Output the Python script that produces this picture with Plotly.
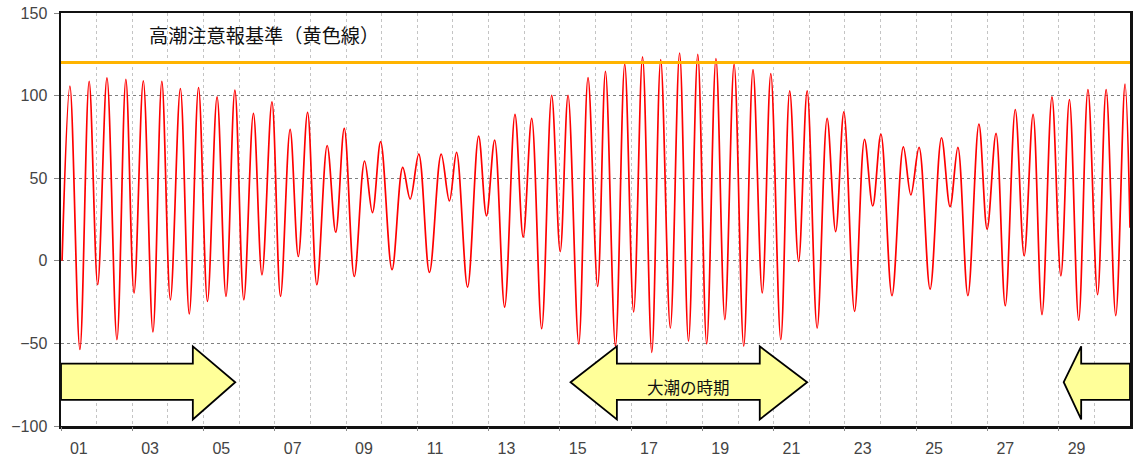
import plotly.graph_objects as go

# ---- data (day of month as decimal, tide level) ----
tide_day = [
    1.03, 1.25, 1.53, 1.79, 2.03, 2.29, 2.57, 2.82, 3.05, 3.31,
    3.58, 3.83, 4.07, 4.35, 4.60, 4.86, 5.11, 5.38, 5.63, 5.88,
    6.13, 6.40, 6.64, 6.92, 7.16, 7.43, 7.66, 7.92, 8.18, 8.47,
    8.71, 8.95, 9.23, 9.52, 9.74, 9.97, 10.29, 10.59, 10.80, 11.04,
    11.34, 11.67, 11.90, 12.10, 12.41, 12.72, 12.94, 13.17, 13.45, 13.74,
    13.97, 14.21, 14.49, 14.77, 15.01, 15.23, 15.53, 15.79, 16.06, 16.28,
    16.56, 16.82, 17.07, 17.32, 17.58, 17.83, 18.10, 18.36, 18.61, 18.87,
    19.12, 19.38, 19.63, 19.89, 20.16, 20.42, 20.68, 20.92, 21.20, 21.45,
    21.70, 21.94, 22.22, 22.50, 22.74, 22.97, 23.27, 23.55, 23.78, 24.01,
    24.32, 24.64, 24.85, 25.08, 25.39, 25.71, 25.95, 26.17, 26.45, 26.76,
    26.99, 27.24, 27.50, 27.78, 28.03, 28.28, 28.53, 28.81, 29.06, 29.30,
    29.56, 29.82, 30.09, 30.33, 30.60, 30.86, 31.00,
]
tide_level = [
    0, 105.7, -53.7, 108.7, -14.5, 110.7, -47.7, 109.9, -19.5, 108.9,
    -43.1, 108.7, -23.6, 104.3, -32.2, 104.9, -24.6, 99.2, -21.5, 103.3,
    -23.6, 89.2, -8.5, 96.2, -21.5, 79.5, 2.6, 89.8, -14.5, 69.8,
    17.3, 80.1, -9.5, 60.4, 29.2, 72.1, -5.4, 56.6, 37.4, 64.6,
    -7.0, 64.6, 36.2, 65.6, -15.9, 75.5, 27.2, 73.1, -28.0, 88.6,
    14.3, 86.2, -41.1, 100.2, 5.6, 100.2, -50.3, 110.9, -15.5, 114.7,
    -51.7, 119.0, -31.0, 123.4, -55.4, 121.8, -40.7, 125.8, -48.7, 125.0,
    -50.3, 122.4, -35.6, 119.0, -51.7, 115.7, -19.5, 113.3, -47.7, 102.9,
    -0.4, 102.9, -40.7, 86.2, 17.7, 90.2, -30.6, 73.5, 33.2, 76.7,
    -21.1, 69.0, 39.9, 68.6, -17.1, 74.5, 32.8, 68.6, -21.1, 82.7,
    19.1, 77.1, -27.2, 91.6, 3.0, 88.6, -32.6, 99.2, -9.1, 97.6,
    -36.0, 103.7, -20.5, 103.7, -33.2, 106.9, 20.0,
]
threshold_level = [120, 120]
threshold_day = [1, 31]

day_labels = ["01", "03", "05", "07", "09", "11", "13", "15",
              "17", "19", "21", "23", "25", "27", "29"]
y_ticks = [-100, -50, 0, 50, 100, 150]

title_text = "高潮注意報基準（黄色線）"
spring_text = "大潮の時期"

# ---------------------------------------------------------------------------
label_pos = [int(s) + 0.5 for s in day_labels]
tick_pos = [int(s) for s in day_labels]

TICK_FONT = dict(family="Liberation Sans, Arial, sans-serif", size=16, color="#444444")
JP_FONT = "Noto Sans CJK JP, sans-serif"

fig = go.Figure()

fig.add_trace(go.Scatter(
    x=tide_day, y=tide_level, mode="lines",
    line=dict(color="#ff0000", width=1.7, shape="spline", smoothing=1.0),
    hoverinfo="skip", showlegend=False,
))
fig.add_trace(go.Scatter(
    x=threshold_day, y=threshold_level, mode="lines", xaxis="x2",
    line=dict(color="#FFB400", width=3),
    hoverinfo="skip", showlegend=False,
))

# block arrows (spring-tide periods)
ARROW_STYLE = dict(type="path", xref="x", yref="y", layer="above",
                   fillcolor="#FFFF99", line=dict(color="black", width=1.8))
body_top, body_bot = -62.2, -84.2
head_top, head_bot, mid = -51.8, -96.0, -73.5


def right_arrow(x0, xb, xt):
    return (f"M{x0},{body_top} L{xb},{body_top} L{xb},{head_top} L{xt},{mid} "
            f"L{xb},{head_bot} L{xb},{body_bot} L{x0},{body_bot} Z")


def left_arrow(xt, xb, x1):
    return (f"M{xt},{mid} L{xb},{head_top} L{xb},{body_top} L{x1},{body_top} "
            f"L{x1},{body_bot} L{xb},{body_bot} L{xb},{head_bot} Z")


def double_arrow(xt0, xb0, xb1, xt1):
    return (f"M{xt0},{mid} L{xb0},{head_top} L{xb0},{body_top} L{xb1},{body_top} "
            f"L{xb1},{head_top} L{xt1},{mid} L{xb1},{head_bot} L{xb1},{body_bot} "
            f"L{xb0},{body_bot} L{xb0},{head_bot} Z")


shapes = [
    dict(path=right_arrow(1.0, 4.70, 5.89), **ARROW_STYLE),
    dict(path=double_arrow(15.30, 16.60, 20.61, 21.94), **ARROW_STYLE),
    dict(path=left_arrow(29.14, 29.63, 31.0), **ARROW_STYLE),
]

annotations = [
    dict(x=3.40, y=136.5, xref="x", yref="y", text=title_text, showarrow=False,
         xanchor="left", yanchor="middle",
         font=dict(family=JP_FONT, size=19.2, color="#111111")),
    dict(x=18.61, y=-76.5, xref="x", yref="y", text=spring_text, showarrow=False,
         xanchor="center", yanchor="middle",
         font=dict(family=JP_FONT, size=16.5, color="#111111")),
]

fig.update_layout(
    width=1135, height=459,
    margin=dict(l=61, r=2, t=13, b=32),
    paper_bgcolor="white", plot_bgcolor="white",
    showlegend=False,
    shapes=shapes, annotations=annotations,
    xaxis=dict(
        range=[1, 31], tickmode="array", tickvals=label_pos, ticktext=day_labels,
        ticks="", showgrid=False, zeroline=False,
        showline=True, mirror=True, linecolor="#111111", linewidth=2.5,
        tickfont=TICK_FONT, ticklabelstandoff=6,
        minor=dict(tick0=1, dtick=1, showgrid=True, gridcolor="#c4c4c4",
                   griddash="dot", gridwidth=1, ticks=""),
    ),
    xaxis2=dict(
        overlaying="x", matches="x", anchor="y", side="bottom",
        tickmode="array", tickvals=tick_pos, ticks="outside", ticklen=4,
        tickcolor="#888888", showticklabels=False, showgrid=False,
        zeroline=False, showline=False,
    ),
    yaxis=dict(
        range=[-100, 150], tickmode="array", tickvals=y_ticks,
        ticks="outside", ticklen=5, tickcolor="#888888",
        showgrid=True, gridcolor="#808080", griddash="dot", gridwidth=1,
        zeroline=False, showline=True, mirror=True, linecolor="#111111",
        linewidth=2.5, tickfont=TICK_FONT, ticklabelstandoff=3,
    ),
)

fig.write_html(
    "out.html",
    config={"displayModeBar": False, "staticPlot": True},
    post_script="document.body.style.margin='0';document.body.style.overflow='hidden';",
)
